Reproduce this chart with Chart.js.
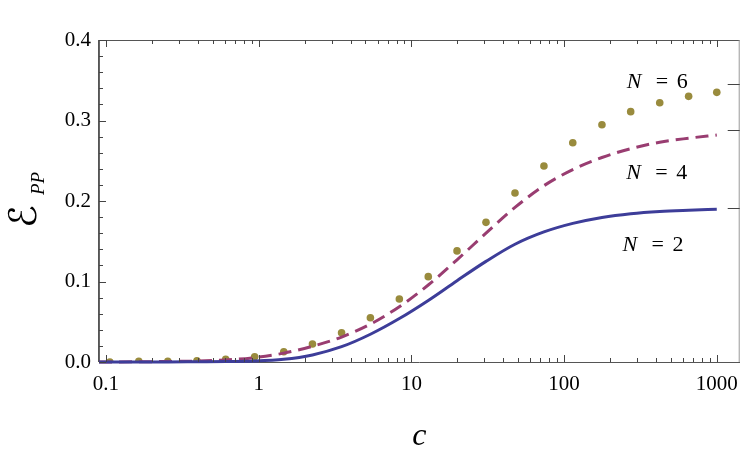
<!DOCTYPE html>
<html>
<head>
<meta charset="utf-8">
<script src="https://cdn.jsdelivr.net/npm/chart.js@4.4.0/dist/chart.umd.min.js"></script>
<style>
  html, body { margin: 0; padding: 0; background: #fff; }
  #wrap { width: 748px; height: 462px; }
</style>
</head>
<body>
<div id="wrap"><canvas id="chart" width="748" height="462"></canvas></div>
<script>
// dotted series (N = 6)
const cDots = [0.106, 0.164, 0.254, 0.394, 0.608, 0.941, 1.46, 2.25, 3.49, 5.39, 8.34,
               12.9, 19.9, 30.8, 47.7, 73.8, 114, 177, 273, 423, 654, 1000];
const n6Values = [0.000, 0.001, 0.001, 0.0016, 0.0033, 0.0066, 0.0128, 0.0224, 0.0364, 0.055, 0.0783,
                  0.106, 0.138, 0.1735, 0.210, 0.2435, 0.2724, 0.2948, 0.311, 0.322, 0.330, 0.335];

// continuous curves (N = 2 solid, N = 4 dashed)
const cCurve = [0.09, 0.164, 0.254, 0.394, 0.608, 0.941, 1.46, 2.25, 3.49, 5.39, 8.34,
                12.9, 19.9, 30.8, 47.7, 73.8, 114, 177, 273, 423, 654, 1000];
const n2Values = [0, 0.0001, 0.0001, 0.0003, 0.0005, 0.0011, 0.0033, 0.0088, 0.019, 0.0345, 0.054,
                  0.0765, 0.101, 0.125, 0.1463, 0.1616, 0.1722, 0.1796, 0.1843, 0.1871, 0.1886, 0.1897];
const n4Values = [0, 0.0003, 0.0007, 0.0012, 0.0025, 0.0055, 0.011, 0.0195, 0.031, 0.047, 0.0687,
                  0.0957, 0.127, 0.160, 0.192, 0.219, 0.239, 0.254, 0.265, 0.273, 0.278, 0.282];

// tick labels
const xDecades = [0.1, 1, 10, 100, 1000];
const yMajor = [0, 0.1, 0.2, 0.3, 0.4];
// limits marked on the right edge
const limitTicks = [0.1917, 0.288, 0.3457];
const seriesNames = ['2', '4', '6'];

const blue = 'rgb(61, 61, 153)';
const purple = 'rgb(153, 61, 113)';
const olive = 'rgb(153, 139, 61)';

// pick a Times-like face if one is installed, else DejaVu Serif
function pickSerif() {
    const c = document.createElement('canvas').getContext('2d');
    const probe = '0123456789 N = c mmmWWW';
    const widthWith = fam => { c.font = '40px ' + fam; return c.measureText(probe).width; };
    const mono = widthWith('monospace');
    const sans = widthWith('sans-serif');
    const names = ['Liberation Serif', 'Times New Roman', 'Tinos', 'Nimbus Roman', 'Nimbus Roman No9 L',
                   'FreeSerif', 'Times'];
    for (const n of names) {
        const w1 = widthWith('"' + n + '", monospace');
        const w2 = widthWith('"' + n + '", sans-serif');
        if (w1 !== mono || w2 !== sans) return '"' + n + '", serif';
    }
    return '"DejaVu Serif", serif';
}
let serif = '"Liberation Serif", serif';

function toPoints(xs, ys) {
    return xs.map((v, i) => ({x: v, y: ys[i]}));
}

const isMajorY = v => yMajor.some(t => Math.abs(t - v) < 1e-9);

// frame, inward ticks, titles and curve names
const framePlugin = {
    id: 'frame',
    afterDatasetsDraw(chart) {
        const {ctx, chartArea: a, scales: {x, y}} = chart;
        ctx.save();
        ctx.lineWidth = 1;

        // frame
        ctx.strokeStyle = '#555';
        ctx.beginPath();
        ctx.moveTo(a.left - 0.5, a.top + 0.5);
        ctx.lineTo(a.right, a.top + 0.5);
        ctx.moveTo(a.left - 0.5, a.top);
        ctx.lineTo(a.left - 0.5, a.bottom);
        ctx.stroke();
        ctx.strokeStyle = '#999';
        ctx.beginPath();
        ctx.moveTo(a.right - 0.5, a.top);
        ctx.lineTo(a.right - 0.5, a.bottom);
        ctx.stroke();

        // x ticks, bottom and top
        ctx.strokeStyle = '#444';
        ctx.beginPath();
        x.ticks.forEach(t => {
            const px = Math.round(x.getPixelForValue(t.value)) + 0.5;
            const len = xDecades.includes(t.value) ? 7 : 4;
            ctx.moveTo(px, a.bottom);
            ctx.lineTo(px, a.bottom - len);
            ctx.moveTo(px, a.top);
            ctx.lineTo(px, a.top + len);
        });
        // y ticks, left
        y.ticks.forEach(t => {
            const py = Math.round(y.getPixelForValue(t.value)) + 0.5;
            const len = isMajorY(t.value) ? 7 : 4;
            ctx.moveTo(a.left, py);
            ctx.lineTo(a.left + len, py);
        });
        // limit ticks, right
        limitTicks.forEach(v => {
            const py = Math.round(y.getPixelForValue(v)) + 0.5;
            ctx.moveTo(a.right, py);
            ctx.lineTo(a.right - 12, py);
        });
        ctx.stroke();

        ctx.fillStyle = '#000';
        // x title
        ctx.font = 'italic 32px ' + serif;
        ctx.textAlign = 'center';
        ctx.textBaseline = 'alphabetic';
        ctx.fillText('c', (a.left + a.right) / 2, a.bottom + 83);

        // y title
        ctx.save();
        ctx.translate(36, 228);
        ctx.rotate(-Math.PI / 2);
        ctx.textAlign = 'left';
        ctx.font = '38px "DejaVu Sans"';
        ctx.fillText('\u2130', 0, 0);
        ctx.font = 'italic 19px ' + serif;
        ctx.fillText('PP', 33, 8);
        ctx.restore();

        // curve names, anchored in data coordinates
        const anchors = [[380, 0.145], [402, 0.235], [405, 0.348]];
        ctx.textAlign = 'left';
        ctx.textBaseline = 'middle';
        seriesNames.forEach((n, i) => {
            const px = x.getPixelForValue(anchors[i][0]) - 30;
            const py = y.getPixelForValue(anchors[i][1]);
            ctx.font = 'italic 22px ' + serif;
            ctx.fillText('N', px, py);
            ctx.font = '22px ' + serif;
            ctx.fillText('=', px + 29, py);
            ctx.fillText(n, px + 50, py);
        });
        ctx.restore();
    }
};

function drawChart() {
    serif = pickSerif();
    new Chart(document.getElementById('chart'), {
        type: 'scatter',
        data: {
            datasets: [
                {
                    label: 'N = 2',
                    data: toPoints(cCurve, n2Values),
                    showLine: true,
                    borderColor: blue,
                    borderWidth: 3,
                    pointRadius: 0,
                    cubicInterpolationMode: 'monotone',
                    clip: 5
                },
                {
                    label: 'N = 4',
                    data: toPoints(cCurve, n4Values),
                    showLine: true,
                    borderColor: purple,
                    borderWidth: 3,
                    borderDash: [13, 7],
                    pointRadius: 0,
                    cubicInterpolationMode: 'monotone',
                    clip: 5
                },
                {
                    label: 'N = 6',
                    data: toPoints(cDots, n6Values),
                    showLine: false,
                    pointRadius: 3.8,
                    pointBackgroundColor: olive,
                    pointBorderWidth: 0,
                    clip: 0
                }
            ]
        },
        options: {
            responsive: false,
            devicePixelRatio: 1,
            animation: false,
            layout: {
                padding: {top: 40, right: 6, left: 0, bottom: 0}
            },
            plugins: {
                legend: {display: false},
                tooltip: {enabled: false}
            },
            scales: {
                x: {
                    type: 'logarithmic',
                    min: 0.09,
                    max: 1413,
                    grid: {display: false, drawTicks: false},
                    border: {display: true, color: '#555', width: 1},
                    afterFit: s => { s.height = 100; },
                    afterBuildTicks: s => {
                        const t = [];
                        xDecades.forEach(d => {
                            for (let m = 1; m <= 9; m++) {
                                const v = +(m * d).toPrecision(6);
                                if (v >= s.min && v <= s.max) t.push({value: v});
                            }
                        });
                        s.ticks = t;
                    },
                    ticks: {
                        autoSkip: false,
                        maxRotation: 0,
                        padding: 10,
                        color: '#000',
                        font: {family: serif, size: 21},
                        callback: v => xDecades.includes(v) ? String(v) : ''
                    }
                },
                y: {
                    min: 0,
                    max: 0.4,
                    grid: {display: false, drawTicks: false},
                    border: {display: true, color: '#666', width: 1},
                    afterFit: s => { s.width = 99; },
                    afterBuildTicks: s => {
                        const t = [];
                        yMajor.forEach(m => {
                            t.push({value: m});
                            if (m < 0.4) {
                                for (let k = 1; k <= 4; k++) t.push({value: +(m + 0.02 * k).toFixed(2)});
                            }
                        });
                        s.ticks = t;
                    },
                    ticks: {
                        autoSkip: false,
                        padding: 8,
                        color: '#000',
                        font: {family: serif, size: 21},
                        callback: v => isMajorY(v) ? v.toFixed(1) : ''
                    }
                }
            }
        },
        plugins: [framePlugin]
    });
}

Promise.all([
    document.fonts.load('21px "Liberation Serif"'),
    document.fonts.load('italic 21px "Liberation Serif"'),
    document.fonts.load('38px "DejaVu Sans"')
]).catch(() => {}).then(drawChart);
</script>
</body>
</html>
